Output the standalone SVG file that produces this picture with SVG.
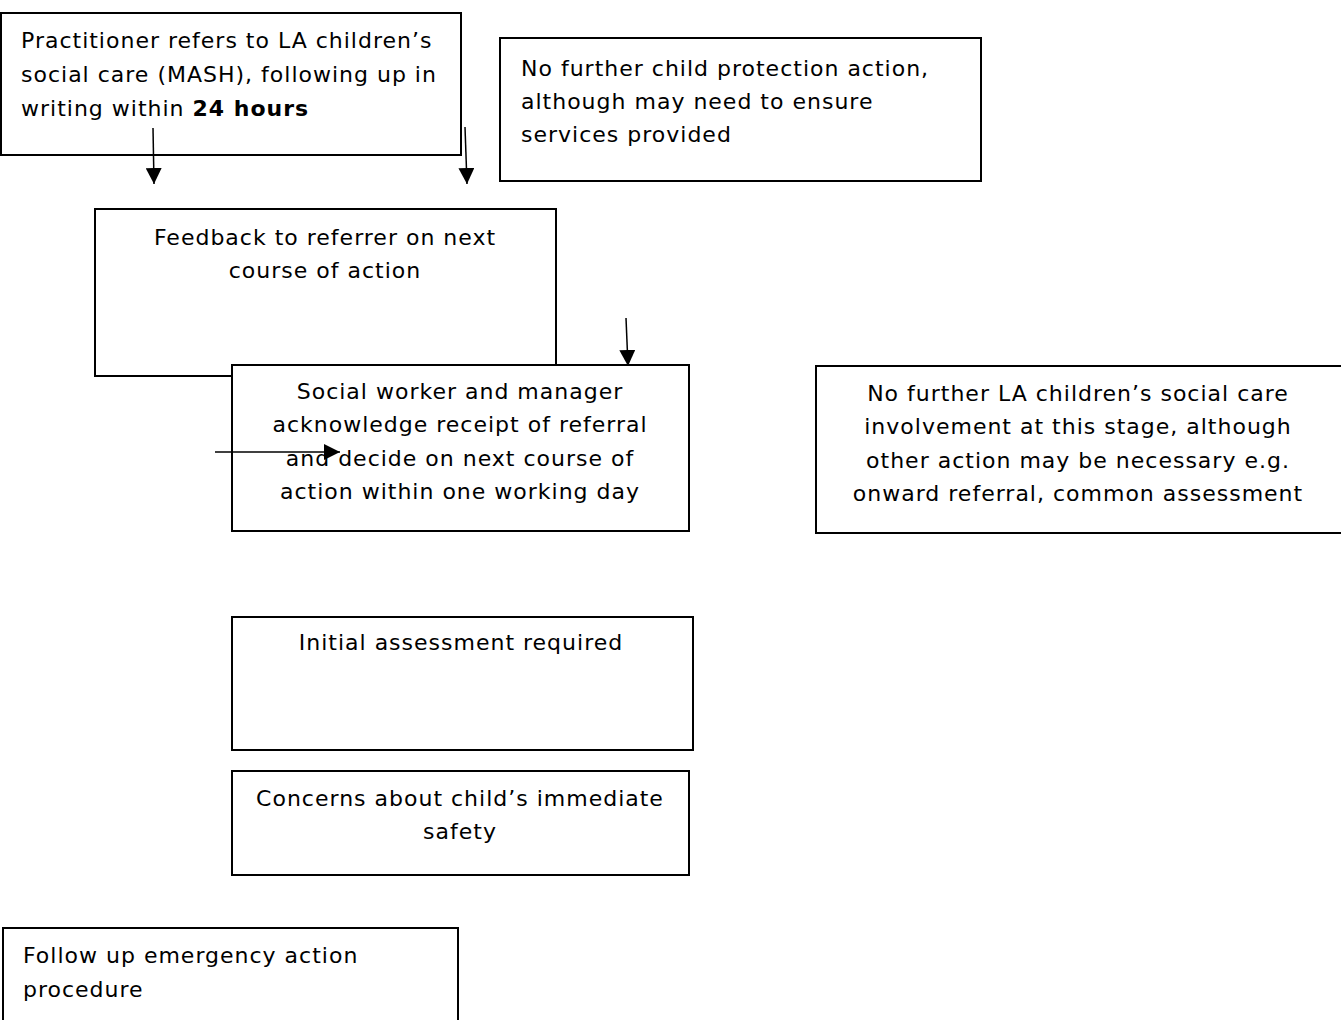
<svg xmlns="http://www.w3.org/2000/svg" width="1341" height="1020" viewBox="0 0 1341 1020">
<style>
.box{fill:#fff;stroke:#000;stroke-width:2}
.t{font-family:"DejaVu Sans",sans-serif;font-size:22px;letter-spacing:1px;fill:#000}
.c{text-anchor:middle}
.conn{stroke:#000;stroke-width:1.5;fill:none;marker-end:url(#ah)}
</style>
<defs>
<marker id="ah" markerUnits="userSpaceOnUse" markerWidth="16" markerHeight="16" viewBox="0 0 16 16" refX="16" refY="8" orient="auto">
<path d="M0,0 L16,8 L0,16 Z" fill="#000"/>
</marker>
</defs>
<g id="n1">
<rect class="box" x="1" y="13" width="460" height="142"/>
<text class="t" x="21" y="48">Practitioner refers to LA children’s</text>
<text class="t" x="21" y="82">social care (MASH), following up in</text>
<text class="t" x="21" y="116">writing within <tspan font-weight="bold">24 hours</tspan></text>
</g>
<g id="n2">
<rect class="box" x="500" y="38" width="481" height="143"/>
<text class="t" x="521" y="76">No further child protection action,</text>
<text class="t" x="521" y="109">although may need to ensure</text>
<text class="t" x="521" y="142">services provided</text>
</g>
<g id="n3">
<rect class="box" x="95" y="209" width="461" height="167"/>
<text class="t c" x="325" y="245">Feedback to referrer on next</text>
<text class="t c" x="325" y="278">course of action</text>
</g>
<g id="n4">
<rect class="box" x="232" y="365" width="457" height="166"/>
<text class="t c" x="460" y="399">Social worker and manager</text>
<text class="t c" x="460" y="432">acknowledge receipt of referral</text>
<text class="t c" x="460" y="466">and decide on next course of</text>
<text class="t c" x="460" y="499">action within one working day</text>
</g>
<g id="n5">
<rect class="box" x="816" y="366" width="540" height="167"/>
<text class="t c" x="1078" y="401">No further LA children’s social care</text>
<text class="t c" x="1078" y="434">involvement at this stage, although</text>
<text class="t c" x="1078" y="468">other action may be necessary e.g.</text>
<text class="t c" x="1078" y="501">onward referral, common assessment</text>
</g>
<g id="n6">
<rect class="box" x="232" y="617" width="461" height="133"/>
<text class="t c" x="461" y="650">Initial assessment required</text>
</g>
<g id="n7">
<rect class="box" x="232" y="771" width="457" height="104"/>
<text class="t c" x="460" y="806">Concerns about child’s immediate</text>
<text class="t c" x="460" y="839">safety</text>
</g>
<g id="n8">
<rect class="box" x="3" y="928" width="455" height="110"/>
<text class="t" x="23" y="963">Follow up emergency action</text>
<text class="t" x="23" y="997">procedure</text>
</g>
<g id="connectors">
<line class="conn" x1="153" y1="128" x2="154" y2="184"/>
<line class="conn" x1="465" y1="127" x2="467" y2="184"/>
<line class="conn" x1="626" y1="318" x2="628" y2="366"/>
<line class="conn" x1="215" y1="452" x2="340" y2="452"/>
</g>
</svg>
